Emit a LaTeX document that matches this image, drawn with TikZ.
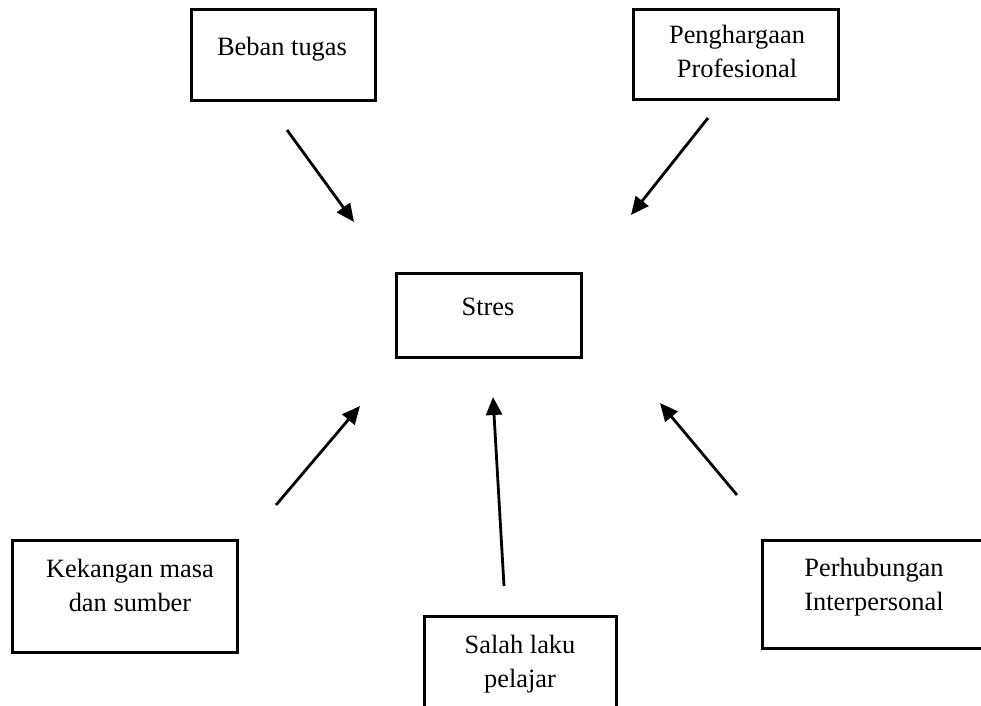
\documentclass[tikz,border=0pt]{standalone}
\usepackage{fontspec}
\setmainfont{Liberation Serif}
\usetikzlibrary{fit,arrows.meta}
\begin{document}
\begin{tikzpicture}[x=0.5pt,y=-0.5pt,
  box/.style={draw=black,line width=1.5pt,inner sep=0pt,fill=none},
  lbl/.style={align=center,inner sep=0pt,font=\fontsize{13.2}{17}\selectfont},
  arr/.style={line width=1.4pt,-{Triangle[length=9pt,width=8pt]}}]
\useasboundingbox (0,0) rectangle (981,706);
\clip (0,0) rectangle (981,706);
% boxes
\node[box,fit={(191,10) (375,101)}] (beban) {};
\node[box,fit={(633,10) (838,100)}] (peng) {};
\node[box,fit={(396,273) (581,357)}] (stres) {};
\node[box,fit={(12,540) (237,652)}] (kek) {};
\node[box,fit={(762,540) (1000,648)}] (perh) {};
\node[box,fit={(424,616) (616,730)}] (salah) {};
% labels
\node[lbl] (bebanT) at (282,49) {Beban tugas};
\node[lbl] (pengT) at (737,51) {Penghargaan\\Profesional};
\node[lbl] (stresT) at (488,307) {Stres};
\node[lbl] (kekT) at (130,585) {Kekangan masa\\dan sumber};
\node[lbl] (perhT) at (874,587) {Perhubungan\\Interpersonal};
\node[lbl] (salahT) at (520,664) {Salah laku\\pelajar};
% arrow end points
\coordinate (a1s) at (287,130); \coordinate (a1e) at (354,222);
\coordinate (a2s) at (708,118); \coordinate (a2e) at (631,215);
\coordinate (a3s) at (276,505); \coordinate (a3e) at (360,406);
\coordinate (a4s) at (504,586); \coordinate (a4e) at (493,397);
\coordinate (a5s) at (737,495); \coordinate (a5e) at (660,403);
\draw[arr] (a1s) -- (a1e);
\draw[arr] (a2s) -- (a2e);
\draw[arr] (a3s) -- (a3e);
\draw[arr] (a4s) -- (a4e);
\draw[arr] (a5s) -- (a5e);
\end{tikzpicture}
\end{document}
